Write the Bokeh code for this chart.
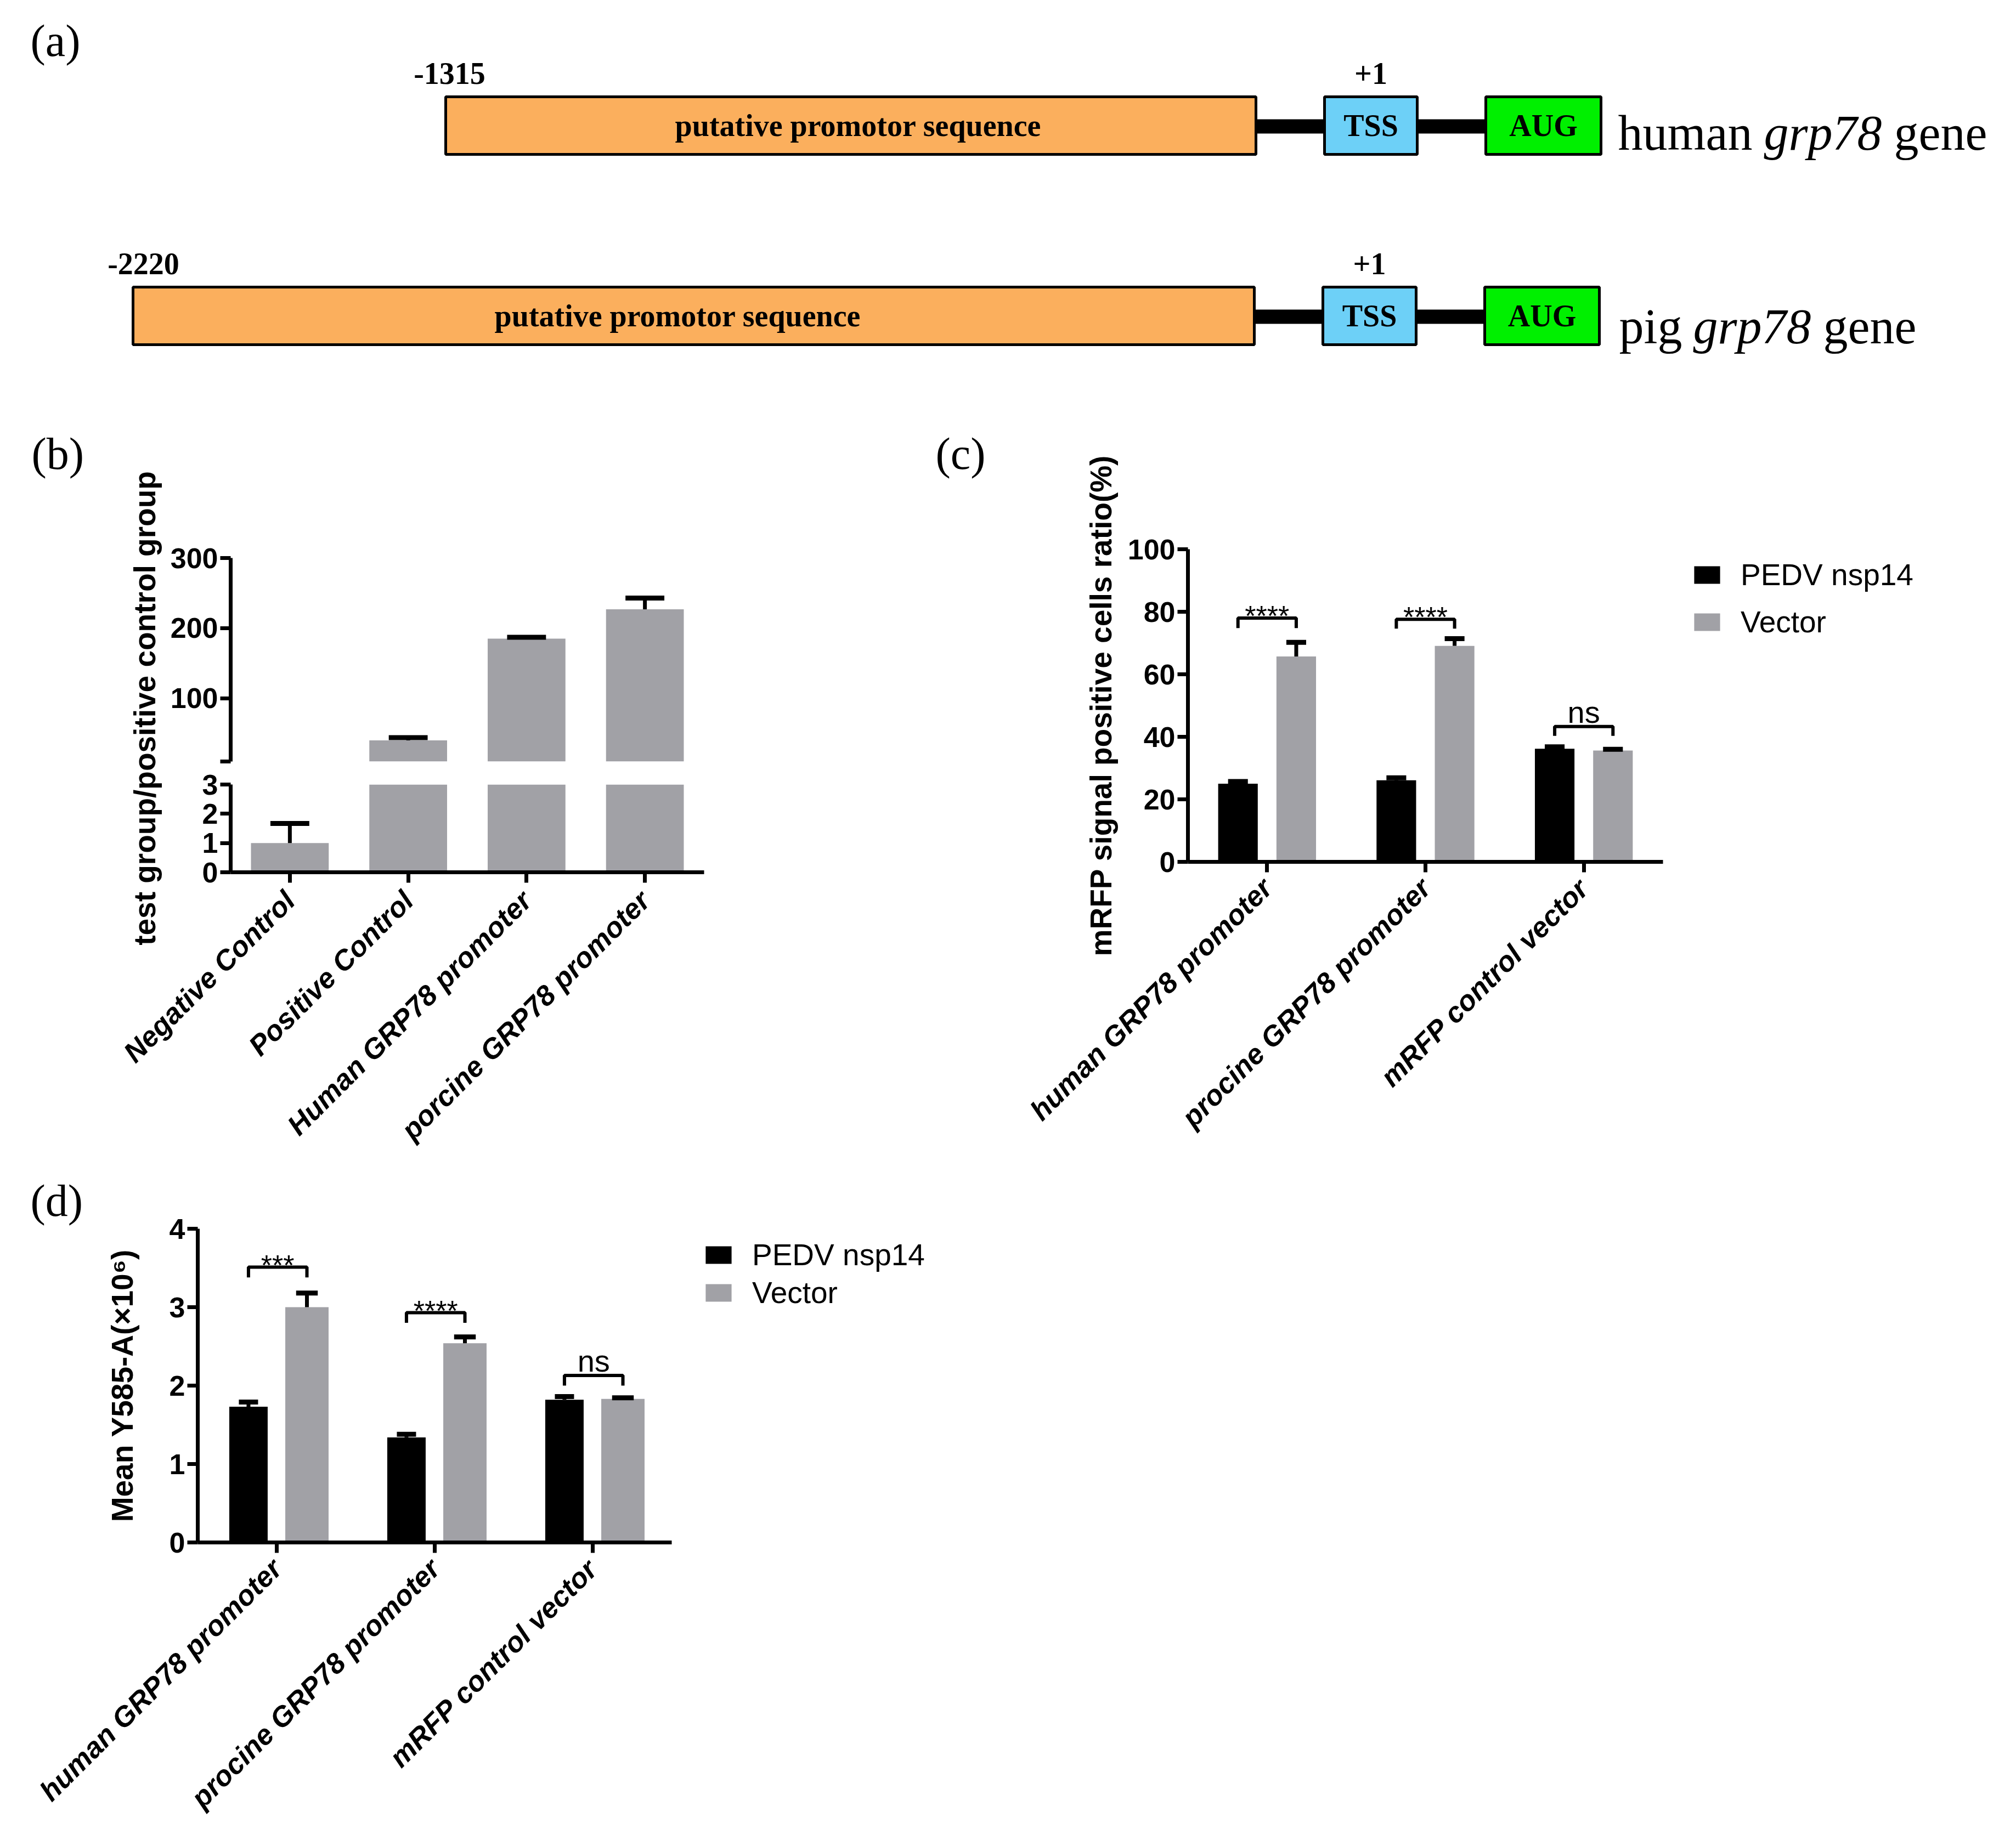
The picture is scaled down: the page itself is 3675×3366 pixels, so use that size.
import math
from bokeh.plotting import figure
from bokeh.layouts import column
from bokeh.models import (Range1d, FactorRange, FixedTicker, Legend, LegendItem,
                          GridBox, ColumnDataSource)
from bokeh.core.properties import value
from bokeh.embed import file_html
from bokeh.resources import INLINE

# ---------------- data ----------------
a_genes = ["human", "pig"]
a_starts = ["-1315", "-2220"]
a_tss_pos = "+1"
a_box_labels = ["putative promotor sequence", "TSS", "AUG"]
a_gene_word = "grp78"

b_categories = ["Negative Control", "Positive Control",
                "Human GRP78 promoter", "porcine GRP78 promoter"]
b_values = [1.0, 40.0, 185.0, 227.0]
b_sem = [0.67, 4.0, 2.0, 16.0]
b_upper_ticks = [10, 100, 200, 300]
b_lower_ticks = [0, 1, 2, 3]
b_ylabel = "test group/positive control group"

cd_categories = ["human GRP78 promoter", "procine GRP78 promoter", "mRFP control vector"]
series_names = ["PEDV nsp14", "Vector"]

c_nsp14 = [25.0, 26.1, 36.2]
c_nsp14_sem = [0.7, 0.8, 0.6]
c_vector = [65.7, 69.1, 35.6]
c_vector_sem = [4.5, 2.3, 0.4]
c_sig = ["****", "****", "ns"]
c_bracket_top = [78.0, 77.6, 43.3]
c_bracket_bottom = [74.8, 74.6, 40.3]
c_ticks = [0, 20, 40, 60, 80, 100]
c_ylabel = "mRFP signal positive cells ratio(%)"

d_nsp14 = [1.73, 1.34, 1.82]
d_nsp14_sem = [0.06, 0.04, 0.04]
d_vector = [3.00, 2.54, 1.83]
d_vector_sem = [0.18, 0.08, 0.015]
d_sig = ["***", "****", "ns"]
d_bracket_top = [3.51, 2.93, 2.13]
d_bracket_bottom = [3.38, 2.80, 2.00]
d_ticks = [0, 1, 2, 3, 4]
d_ylabel = "Mean Y585-A(\u00d710\u2076)"

# ---------------- style / layout (page pixels) ----------------
M = 8
W, H = 3655, 3345
SANS = "Liberation Sans"
SERIF = "Liberation Serif"
GRAY = "#A1A1A6"
ORANGE = "#FBAF5D"
BLUE = "#6DD0F7"
GREEN = "#00F000"


def make_fig(x_range, y_range, frame, **kw):
    """Full-page transparent canvas; frame given in page pixels (left, top, right, bottom)."""
    l, t, r, b = frame
    p = figure(width=W, height=H, x_range=x_range, y_range=y_range, title=None,
               output_backend="svg", toolbar_location=None,
               min_border_left=l - M, min_border_top=t - M,
               min_border_right=M + W - r, min_border_bottom=M + H - b, **kw)
    p.background_fill_color = None
    p.border_fill_color = None
    p.outline_line_color = None
    p.grid.visible = False
    return p


def style_axis(ax, size="52px", style="bold"):
    ax.axis_line_width = 7
    ax.axis_line_color = "black"
    ax.major_tick_line_width = 7
    ax.major_tick_line_color = "black"
    ax.major_tick_out = 19
    ax.major_tick_in = 0
    ax.minor_tick_out = 0
    ax.minor_tick_in = 0
    ax.major_label_text_font = SANS
    ax.major_label_text_font_style = style
    ax.major_label_text_font_size = size
    ax.major_label_text_color = "black"
    ax.major_label_standoff = 4
    ax.axis_label_text_font = SANS
    ax.axis_label_text_font_style = "bold"
    ax.axis_label_text_font_size = "55px"
    ax.axis_label_text_color = "black"


# ---------------- page-wide layer: panel (a) schematic, panel letters ----------------
fA = make_fig(Range1d(M, M + W), Range1d(M + H, M), (M, M, M + W, M + H),
              x_axis_location=None, y_axis_location=None)

a_rows = [
    dict(top=184, bot=289, prom=(820, 2297), tss=(2422, 2591), aug=(2716, 2926),
         conn=(225, 251), start_xy=(827, 141), prom_x=1572,
         name_x=[2957, 3223, 3460], base=250),
    dict(top=531, bot=636, prom=(250, 2294), tss=(2419, 2589), aug=(2714, 2923),
         conn=(572, 598), start_xy=(269, 488), prom_x=1243,
         name_x=[2959, 3094, 3331], base=603),
]
for gene, start, r in zip(a_genes, a_starts, a_rows):
    fA.quad(left=[r["prom"][1], r["tss"][1]], right=[r["tss"][0], r["aug"][0]],
            top=[r["conn"][0]] * 2, bottom=[r["conn"][1]] * 2,
            fill_color="black", line_color=None)
    fA.quad(left=[r["prom"][0], r["tss"][0], r["aug"][0]],
            right=[r["prom"][1], r["tss"][1], r["aug"][1]],
            top=[r["top"]] * 3, bottom=[r["bot"]] * 3,
            fill_color=[ORANGE, BLUE, GREEN], line_color="black", line_width=5)
    cy = (r["top"] + r["bot"]) / 2
    tss_c = sum(r["tss"]) / 2
    aug_c = sum(r["aug"]) / 2
    fA.text(x=[r["prom_x"], tss_c, aug_c], y=[cy] * 3, text=a_box_labels,
            text_font=value(SERIF), text_font_style="bold", text_font_size="56px",
            text_align="center", text_baseline="middle", text_color="black")
    fA.text(x=[r["start_xy"][0], tss_c], y=[r["start_xy"][1]] * 2, text=[start, a_tss_pos],
            text_font=value(SERIF), text_font_style="bold", text_font_size="56px",
            text_align="center", text_baseline="middle", text_color="black")
    pieces = [gene, a_gene_word, "gene"]
    styles = ["normal", "italic", "normal"]
    for xx, t, st in zip(r["name_x"], pieces, styles):
        fA.text(x=[xx], y=[r["base"]], text=[t], text_font=value(SERIF),
                text_font_style=st, text_font_size="90px", text_align="left",
                text_baseline="alphabetic", text_color="black")

fA.text(x=[63, 65, 1713, 63], y=[82, 835, 835, 2197], text=["(a)", "(b)", "(c)", "(d)"],
        text_font=value(SERIF), text_font_size="82px", text_align="left",
        text_baseline="middle", text_color="black")
# shared title of the broken y axis in panel (b)
fA.text(x=[271], y=[1299], text=[b_ylabel], angle=math.pi / 2,
        text_font=value(SANS), text_font_style="bold", text_font_size="55px",
        text_align="center", text_baseline="middle", text_color="black")

# ---------------- panel (b): broken y axis (two stacked segments) ----------------
b_xr = FactorRange(*b_categories)
seg_ranges = [(b_upper_ticks[0], b_upper_ticks[-1]), (b_lower_ticks[0], b_lower_ticks[-1])]
fBu = make_fig(b_xr, Range1d(*seg_ranges[0]), (428, 1025, 1291, 1396), x_axis_location=None)
fBl = make_fig(b_xr, Range1d(*seg_ranges[1]), (428, 1438, 1291, 1598))

b_err = [v + s for v, s in zip(b_values, b_sem)]
b_w = 0.657
for p, (lo, hi) in zip((fBu, fBl), seg_ranges):
    # keep only what reaches into this axis segment
    idx = [i for i, v in enumerate(b_values) if v >= lo]
    src = ColumnDataSource(dict(cat=[b_categories[i] for i in idx],
                                val=[b_values[i] for i in idx],
                                err=[b_err[i] for i in idx]))
    p.vbar(x="cat", top="val", bottom=lo, width=b_w, source=src,
           fill_color=GRAY, line_color=None)
    p.segment(x0="cat", y0="val", x1="cat", y1="err", source=src,
              line_width=7, line_color="black")
    p.rect(x="cat", y="err", width=b_w / 2, height=9, height_units="screen",
           source=src, fill_color="black", line_color=None)

for p, ticks in ((fBu, b_upper_ticks), (fBl, b_lower_ticks)):
    p.yaxis.ticker = FixedTicker(ticks=ticks, minor_ticks=[])
    style_axis(p.yaxis[0])
fBu.yaxis.major_label_overrides = {b_upper_ticks[0]: ""}
style_axis(fBl.xaxis[0], style="bold italic")
fBl.xaxis.major_label_orientation = math.pi / 4
fBl.xaxis.major_label_standoff = 24


# ---------------- grouped bar panels (c) and (d) ----------------
def grouped_panel(frame, axis_end, ymax, ticks, nsp, nsp_sem, vec, vec_sem,
                  offs, widths, sig, btop, bbot, ylabel, label_standoff, leg_pos, leg_spacing):
    left, top, right, bottom = frame
    n = len(cd_categories)
    unit = (axis_end - left) / n
    p = make_fig(Range1d(0, (right - left) / unit), Range1d(0, ymax), frame)
    centers = [i + 0.5 for i in range(n)]
    renderers = []
    for vals, sems, off, w, col in ((nsp, nsp_sem, offs[0], widths[0], "black"),
                                   (vec, vec_sem, offs[1], widths[1], GRAY)):
        xs = [c + off for c in centers]
        src = ColumnDataSource(dict(x=xs, val=vals, err=[v + s for v, s in zip(vals, sems)]))
        r = p.vbar(x="x", top="val", bottom=0, width=w, source=src,
                   fill_color=col, line_color=None)
        renderers.append(r)
        p.segment(x0="x", y0="val", x1="x", y1="err", source=src,
                  line_width=7, line_color="black")
        p.rect(x="x", y="err", width=w / 2, height=9, height_units="screen",
               source=src, fill_color="black", line_color=None)
    xs_br, ys_br = [], []
    for c, t, b in zip(centers, btop, bbot):
        x0, x1 = c + offs[0], c + offs[1]
        xs_br.append([x0, x0, x1, x1])
        ys_br.append([b, t, t, b])
    p.multi_line(xs=xs_br, ys=ys_br, line_width=6, line_color="black")
    sig_src = ColumnDataSource(dict(
        x=[c + (offs[0] + offs[1]) / 2 for c in centers], y=btop, text=sig,
        off=[-4 if s.startswith("*") else -26 for s in sig],
        size=["52px" if s.startswith("*") else "56px" for s in sig]))
    p.text(x="x", y="y", text="text", y_offset="off", text_font_size="size", source=sig_src,
           text_font=value(SANS), text_align="center", text_baseline="alphabetic",
           text_color="black")
    p.yaxis.ticker = FixedTicker(ticks=ticks, minor_ticks=[])
    style_axis(p.yaxis[0])
    p.yaxis.axis_label = ylabel
    p.yaxis.axis_label_standoff = label_standoff
    p.xaxis.ticker = FixedTicker(ticks=centers, minor_ticks=[])
    p.xaxis.major_label_overrides = {c: cat for c, cat in zip(centers, cd_categories)}
    p.xaxis.bounds = (0, n)
    style_axis(p.xaxis[0], style="bold italic")
    p.xaxis.major_label_orientation = math.pi / 4
    p.xaxis.major_label_standoff = 20
    legend = Legend(items=[LegendItem(label=series_names[0], renderers=[renderers[0]]),
                           LegendItem(label=series_names[1], renderers=[renderers[1]])],
                    location=leg_pos, orientation="vertical",
                    glyph_width=59, glyph_height=40, spacing=leg_spacing, padding=0, margin=0,
                    label_standoff=32, label_text_font=SANS, label_text_font_size="55px",
                    label_text_color="black", border_line_color=None,
                    background_fill_alpha=0)
    p.add_layout(legend)
    return p


fC = grouped_panel((2173, 1009, 3640, 1579), 3039, 100, c_ticks,
                   c_nsp14, c_nsp14_sem, c_vector, c_vector_sem,
                   (-0.184, 0.184), (0.25, 0.25), c_sig, c_bracket_top, c_bracket_bottom,
                   c_ylabel, 15, (917, 405), 22)
fD = grouped_panel((368, 2248, 1800, 2820), 1232, 4, d_ticks,
                   d_nsp14, d_nsp14_sem, d_vector, d_vector_sem,
                   (-0.179, 0.191), (0.243, 0.274), d_sig, d_bracket_top, d_bracket_bottom,
                   d_ylabel, 52, (920, 423), 5)

# every canvas covers the whole page; each sits in its own wrapper so frames stay independent
layout = GridBox(children=[(column(f), 0, 0) for f in (fA, fBu, fBl, fC, fD)])

open("out.html", "w").write(file_html(layout, INLINE))
